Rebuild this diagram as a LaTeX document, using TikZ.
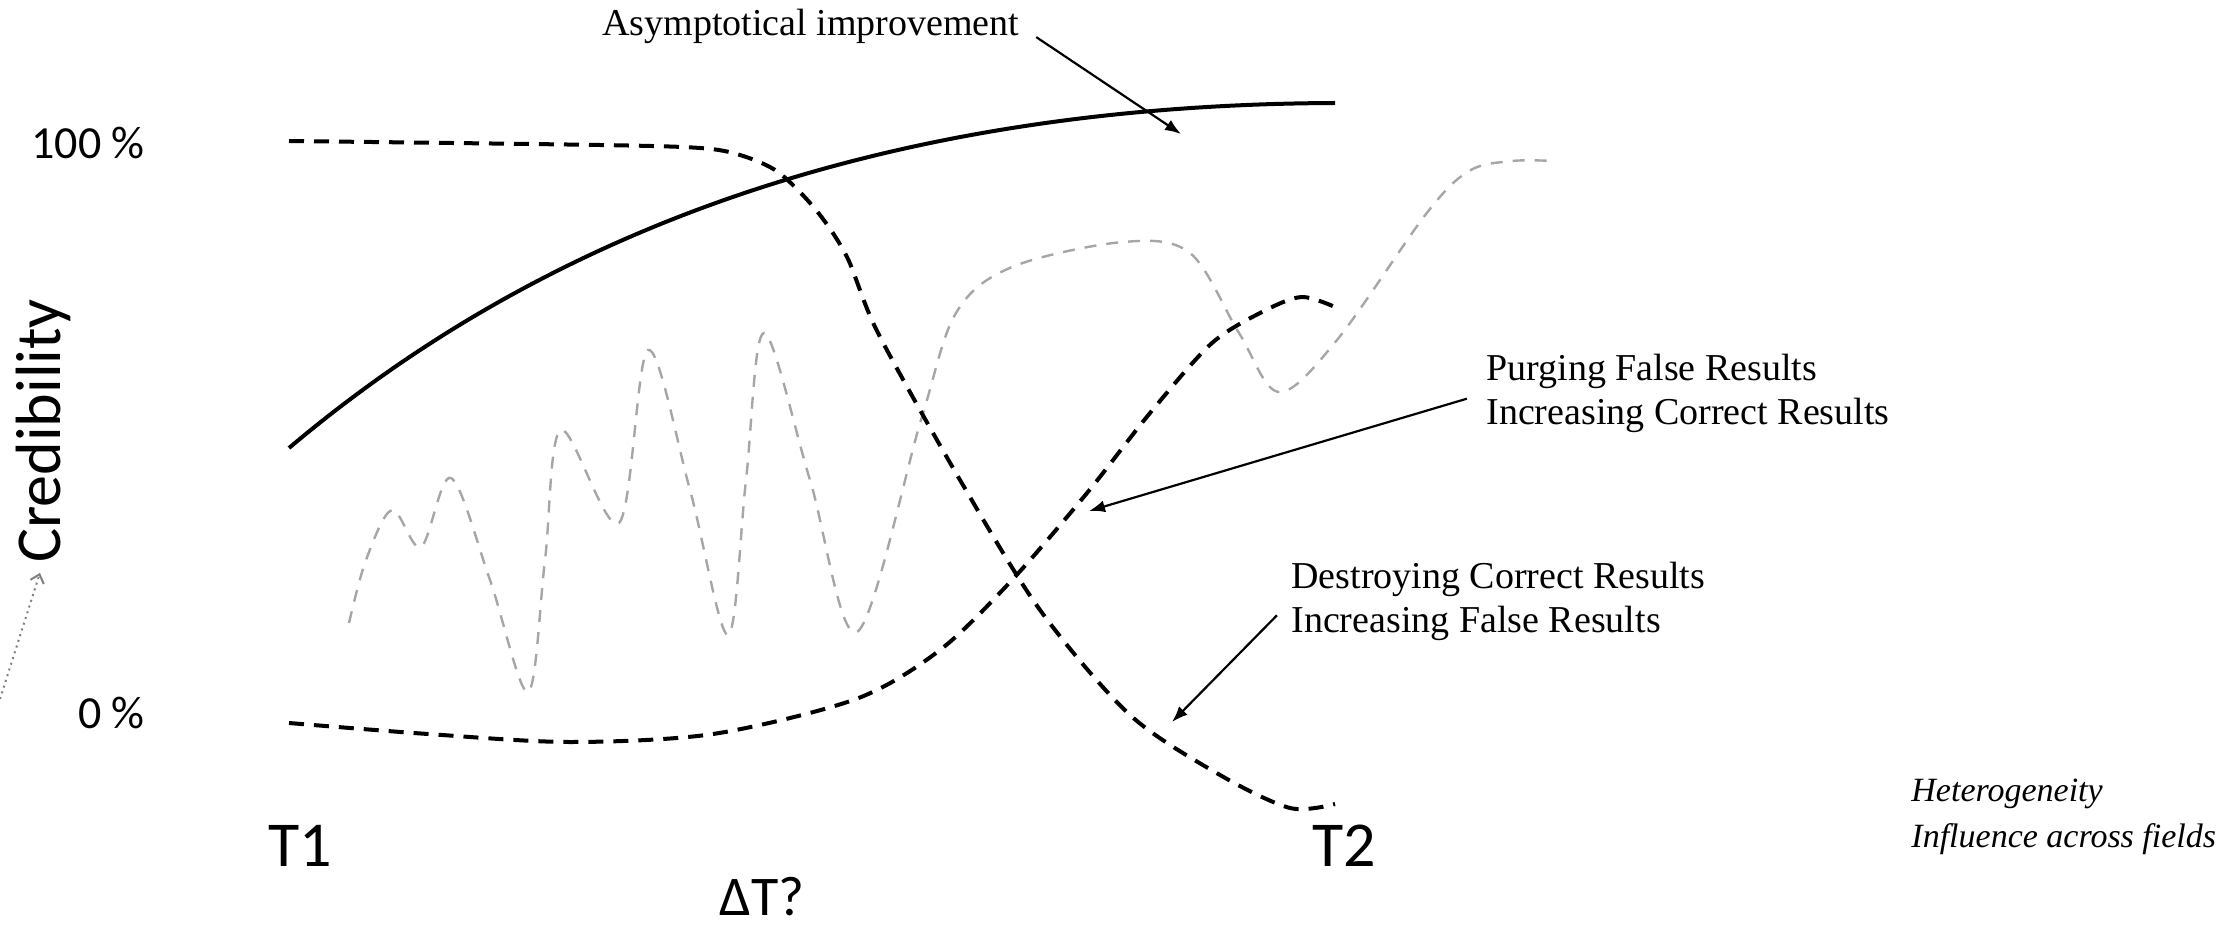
\documentclass[tikz,border=0pt]{standalone}
\usepackage{fontspec}
\setmainfont{Liberation Serif}
\newfontfamily\calibri{Carlito}
\usetikzlibrary{arrows.meta}

\begin{document}
\begin{tikzpicture}[
    x=0.5pt, y=-0.5pt,
    every node/.style={inner sep=0pt},
    ticklabel/.style={font=\calibri\fontsize{23}{27}\selectfont, anchor=east},
    big/.style={font=\calibri\fontsize{32}{38}\selectfont},
    note/.style={font=\fontsize{19}{22}\selectfont, align=left, anchor=west},
    pointer/.style={-{Latex[length=8pt,width=6pt]}, line width=1.1pt, shorten <=10pt},
    hint/.style={-{Straight Barb[length=4pt,width=7pt]}, gray, line width=1pt, dotted, shorten >=5pt},
    trend/.style={line width=2pt},
    swing/.style={line width=2pt, dash pattern=on 7.5pt off 5pt},
    noise/.style={line width=1.2pt, gray!70, dash pattern=on 6pt off 5pt}
  ]
    \useasboundingbox (0,0) rectangle (2236,930);

    \node[ticklabel] (full) at (145,143) {100 \%};
    \node[ticklabel] (zero) at (145,713) {0 \%};
    \node[big, rotate=90] (cred) at (43,431) {Credibility};
    \node[big] (t1) at (300,846) {T1};
    \node[big] (t2) at (1344,846) {T2};
    \node[font=\calibri\fontsize{28}{32}\selectfont] (dt) at (762,897) {ΔT?};

    \node[note] (asym) at (602,26) {Asymptotical improvement};
    \node[note] (purge) at (1486,393) {Purging False Results\\Increasing Correct Results};
    \node[note] (destroy) at (1291,601) {Destroying Correct Results\\Increasing False Results};
    \node[note, font=\itshape\fontsize{17}{23}\selectfont] (hetero) at (1911,817) {Heterogeneity\\Influence across fields};

    % curves
    \draw[noise] plot[smooth, tension=0.55] coordinates {(349,623) (366,560) (392,510) (421,547) (451,478) (490,580) (528,692) (545,560) (561,430) (619,523) (648,350) (690,490) (728,635) (746,480) (764,333) (810,480) (857,632) (921,420) (956,313) (1012,267) (1123,242) (1190,253) (1239,333) (1279,392) (1337,340) (1426,214) (1469,171) (1512,161) (1554,161)};
    \draw[trend] (289,448) .. controls (500,270) and (820,105) .. (1335,103);
    \draw[swing] plot[smooth] coordinates {(289,141) (600,145) (700,148) (740,155) (778,172) (816,210) (847,257) (878,333) (960,480) (1040,610) (1130,715) (1220,775) (1290,808) (1335,804)};
    \draw[swing] plot[smooth] coordinates {(289,723) (428,734) (570,742) (713,734) (856,699) (940,650) (1012,580) (1087,493) (1150,413) (1212,343) (1266,310) (1302,297) (1335,307)};

    \coordinate (asym-tip) at (1181,134);
    \coordinate (purge-tip) at (1089,511);
    \coordinate (destroy-tip) at (1172,722);
    \coordinate (cred-from) at (0,699);

    \draw[pointer] (asym.east) -- (asym-tip);
    \draw[pointer] (purge.west) -- (purge-tip);
    \draw[pointer] (destroy.west) -- (destroy-tip);
    \draw[hint] (cred-from) -- (cred.west);
\end{tikzpicture}
\end{document}
